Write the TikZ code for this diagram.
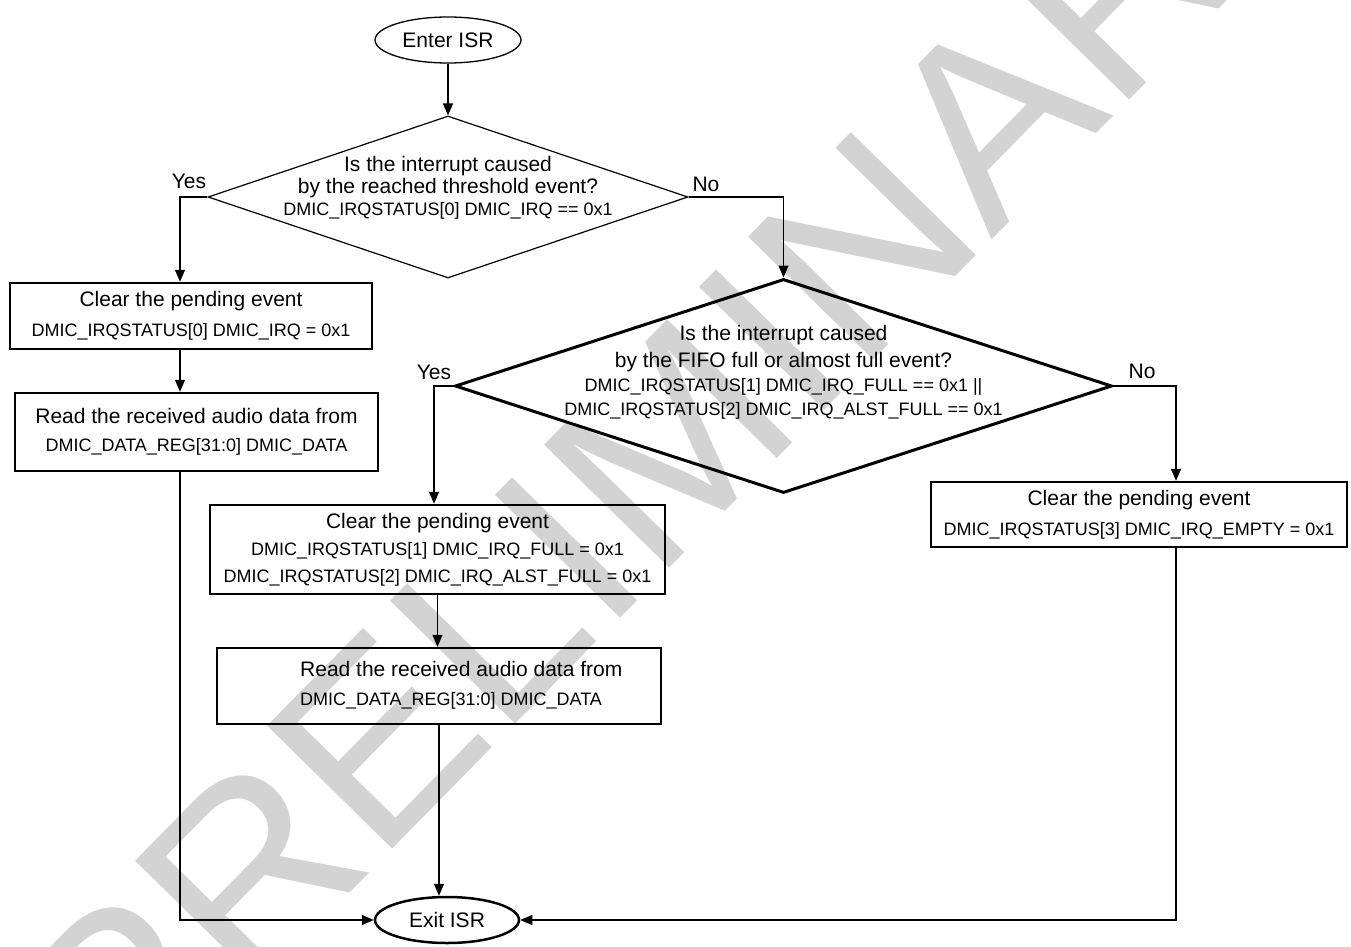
\documentclass[tikz,border=0pt]{standalone}
\usepackage{fontspec}
\usepackage{graphicx}
\setmainfont{Liberation Sans}
\newfontfamily\wmfont{Liberation Sans}
\usetikzlibrary{shapes.geometric,arrows.meta,calc}
\definecolor{wm}{RGB}{211,211,211}
\newcommand{\bigf}{\fontsize{21}{27}\selectfont}
\newcommand{\smf}{\fontsize{18}{27}\selectfont}
\begin{document}
\begin{tikzpicture}[x=1pt,y=-1pt,
  conn/.style={line width=1.3pt,-{Triangle[length=12pt,width=10pt]}},
  boxnode/.style={draw,line width=2.5pt,inner sep=0pt,align=center,font=\smf},
  label/.style={font=\bigf,inner sep=0pt},
  txt/.style={inner sep=0pt,align=center,font=\smf}]
\useasboundingbox (0,0) rectangle (1351,947);
% watermark
\node[text=wm,rotate=45.5,inner sep=0pt] (wmk) at (682,430)
  {\wmfont\fontsize{255}{255}\selectfont\scalebox{1.03}[1]{PRELIMINARY}};
% terminals
\node[draw,ellipse,line width=1.3pt,minimum width=146,minimum height=46,inner sep=0pt,font=\bigf] (en) at (448,40) {Enter ISR};
\node[draw,ellipse,line width=2.5pt,minimum width=144,minimum height=46,inner sep=0pt,font=\bigf] (ex) at (447,920) {Exit ISR};
% decision 1
\node[draw,diamond,line width=1.2pt,minimum width=480,minimum height=162,inner sep=0pt] (d1) at (448,197) {};
\node[inner sep=0pt,align=center,font=\fontsize{18}{22}\selectfont] (d1t) at (448,188)
  {{\bigf Is the interrupt caused}\\{\bigf by the reached threshold event?}\\DMIC\_IRQSTATUS[0] DMIC\_IRQ == 0x1};
% decision 2
\node[draw,diamond,line width=3pt,minimum width=657,minimum height=214,inner sep=0pt] (d2) at (783.5,386) {};
\node[inner sep=0pt,align=center,font=\fontsize{18}{24}\selectfont] (d2t) at (783.5,372.5)
  {{\bigf Is the interrupt caused}\\[3pt]{\bigf by the FIFO full or almost full event?}\\DMIC\_IRQSTATUS[1] DMIC\_IRQ\_FULL == 0x1 ||\\DMIC\_IRQSTATUS[2] DMIC\_IRQ\_ALST\_FULL == 0x1};
% boxes
\node[boxnode,minimum width=362,minimum height=66] (b1) at (191,316)
  {{\bigf Clear the pending event}\\[3pt]DMIC\_IRQSTATUS[0] DMIC\_IRQ = 0x1};
\node[boxnode,minimum width=363,minimum height=78] (b2) at (196.5,432)
  {{\bigf Read the received audio data from}\\[1pt]DMIC\_DATA\_REG[31:0] DMIC\_DATA};
\node[boxnode,minimum width=455,minimum height=89] (b3) at (437.5,549.5)
  {{\bigf Clear the pending event}\\DMIC\_IRQSTATUS[1] DMIC\_IRQ\_FULL = 0x1\\DMIC\_IRQSTATUS[2] DMIC\_IRQ\_ALST\_FULL = 0x1};
\node[boxnode,minimum width=444,minimum height=76] (b4) at (439,686) {};
\node[txt,align=left,anchor=west] (b4t) at (300,685.5)
  {{\bigf Read the received audio data from}\\[2pt]DMIC\_DATA\_REG[31:0] DMIC\_DATA};
\node[boxnode,minimum width=416,minimum height=65] (b5) at (1139,514.5)
  {{\bigf Clear the pending event}\\[3pt]DMIC\_IRQSTATUS[3] DMIC\_IRQ\_EMPTY = 0x1};
% labels
\node[label] (y1) at (189,181) {Yes};
\node[label] (n1) at (706,184) {No};
\node[label] (y2) at (434,372) {Yes};
\node[label] (n2) at (1142,371) {No};
% connectors
\coordinate (yl) at (180,197);
\coordinate (yr) at (434,386);
\coordinate (nr) at (1176,386);
\draw[conn] (en.south) -- (d1.north);
\draw[conn] (d1.west) -- (yl) -- (yl |- b1.north);
\draw[conn] (yl |- b1.south) -- (yl |- b2.north);
\draw[conn] (yl |- b2.south) -- (yl |- ex.west) -- (ex.west);
\draw[conn] (d1.east) -| (d2.north);
\draw[conn] (d2.west) -- (yr) -- (yr |- b3.north);
\draw[conn] (b3.south) -- (b3.south |- b4.north);
\draw[conn] (b4.south) -- (b4.south |- ex.north);
\draw[conn] (d2.east) -- (nr) -- (nr |- b5.north);
\draw[conn] (nr |- b5.south) -- (nr |- ex.east) -- (ex.east);
\end{tikzpicture}
\end{document}
